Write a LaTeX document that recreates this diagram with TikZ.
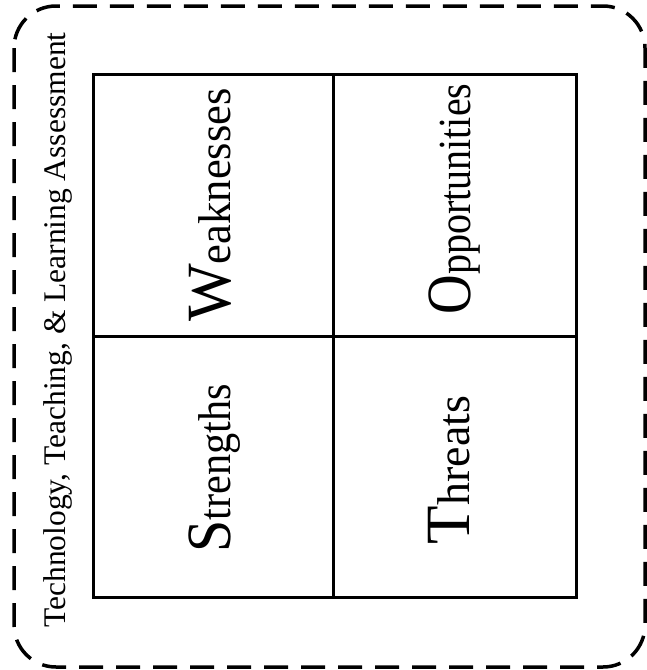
\documentclass[tikz,border=0pt]{standalone}
\usepackage{fontspec}
\setmainfont{Liberation Serif}
\usepackage{tikz}
\usetikzlibrary{positioning, calc}
\newcommand{\swotword}[3]{\scalebox{#1}[1]{{\fontsize{63}{70}\selectfont #2}{\fontsize{46}{52}\selectfont #3}}}

\begin{document}
\begin{tikzpicture}[
  x=1pt, y=-1pt,
  frame/.style={draw, line width=3.5pt, dash pattern=on 24pt off 13pt, rounded corners=42pt},
  gridline/.style={draw, line width=3pt},
  swot/.style={rotate=90, anchor=base, inner sep=0pt},
  heading/.style={rotate=90, anchor=base, inner sep=0pt, font=\fontsize{31.5}{36}\selectfont}
]
  \useasboundingbox (0,0) rectangle (647,670);
  % outer dashed frame
  \draw[frame] (14,6) rectangle (645,667);
  % SWOT grid
  \coordinate (nw) at (93,74);
  \coordinate (se) at (576,597);
  \coordinate (mid) at (333,336);
  \draw[gridline] (nw) rectangle (se);
  \draw[gridline] (nw |- mid) -- (se |- mid);
  \draw[gridline] (mid |- nw) -- (mid |- se);
  % title along the left side
  \node[heading] (title) at (65,330) {Technology, Teaching, \& Learning Assessment};
  % quadrant words
  \node[swot] (weak) at (230,205) {\swotword{0.97}{W}{eaknesses}};
  \node[swot] (strong) at (230,468) {\swotword{0.92}{S}{trengths}};
  \node[swot] (opport) at (470,199) {\swotword{0.87}{O}{pportunities}};
  \node[swot] (threat) at (469,470) {\swotword{1}{T}{hreats}};
\end{tikzpicture}
\end{document}
